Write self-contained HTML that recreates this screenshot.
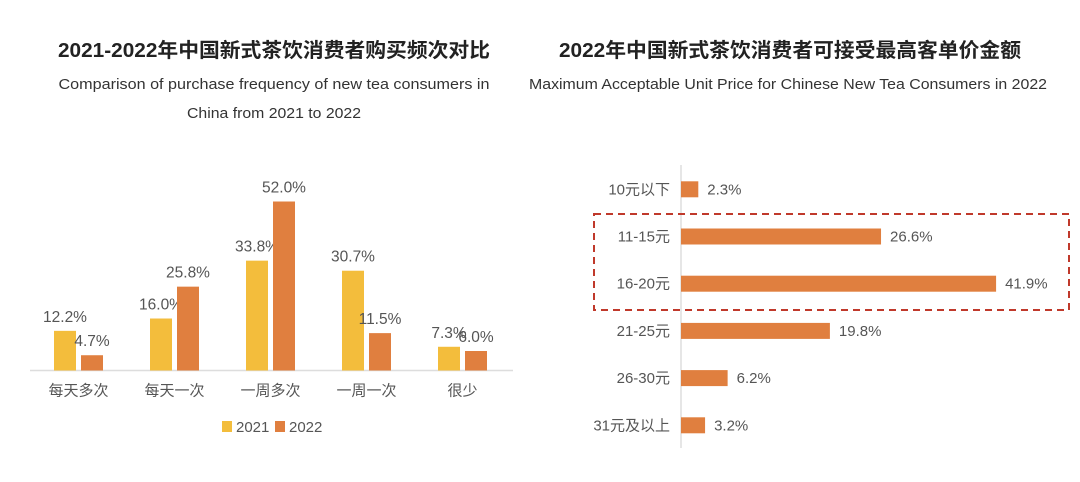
<!DOCTYPE html>
<html><head><meta charset="utf-8">
<style>
html,body{margin:0;padding:0;background:#fff;}
svg{display:block;font-family:"Liberation Sans","Noto Sans CJK SC",sans-serif;}
</style></head>
<body>
<svg id="c" width="1080" height="482" viewBox="0 0 1080 482">
  <text x="274" y="57" text-anchor="middle" font-size="20" font-weight="bold" fill="#222" textLength="432" lengthAdjust="spacingAndGlyphs">2021-2022年中国新式茶饮消费者购买频次对比</text>
  <text x="274" y="89" text-anchor="middle" font-size="15" fill="#333" textLength="431" lengthAdjust="spacingAndGlyphs">Comparison of purchase frequency of new tea consumers in</text>
  <text x="274" y="118" text-anchor="middle" font-size="15" fill="#333" textLength="174" lengthAdjust="spacingAndGlyphs">China from 2021 to 2022</text>
  <text x="790" y="57" text-anchor="middle" font-size="20" font-weight="bold" fill="#222" textLength="462" lengthAdjust="spacingAndGlyphs">2022年中国新式茶饮消费者可接受最高客单价金额</text>
  <text x="788" y="89" text-anchor="middle" font-size="15" fill="#333" textLength="518" lengthAdjust="spacingAndGlyphs">Maximum Acceptable Unit Price for Chinese New Tea Consumers in 2022</text>
  <g id="left"></g>
  <g id="right"></g>
  <rect x="594" y="214" width="475" height="96" fill="none" stroke="#c0392b" stroke-width="2" stroke-dasharray="7,5"/>
</svg>
<script>
const freqCategories = ["每天多次","每天一次","一周多次","一周一次","很少"];
const values2021 = [12.2, 16.0, 33.8, 30.7, 7.3];
const values2022 = [4.7, 25.8, 52.0, 11.5, 6.0];
const seriesNames = ["2021","2022"];
const priceCategories = ["10元以下","11-15元","16-20元","21-25元","26-30元","31元及以上"];
const priceValues = [2.3, 26.6, 41.9, 19.8, 6.2, 3.2];

const NS="http://www.w3.org/2000/svg";
function mk(parent,tag,attrs,text){const e=document.createElementNS(NS,tag);for(const k in attrs)e.setAttribute(k,attrs[k]);if(text!==undefined)e.textContent=text;parent.appendChild(e);return e;}
const C1="#f3bd3c", C2="#e07f3f";

// Left chart
const L=document.getElementById('left');
const base=370.5, yScale=v=>base - v*3.25;
const xCenter=i=>78.5+i*96;
const ax=mk(L,'line',{x1:30,x2:513,y1:base,y2:base,stroke:'#ddd','stroke-width':1.5});


freqCategories.forEach((cat,i)=>{
  const cx=xCenter(i);
  [values2021[i],values2022[i]].forEach((v,s)=>{
    const x = s===0 ? cx-24.5 : cx+2.5;
    const r=mk(L,'rect',{x:x,y:yScale(v),width:22,height:base-yScale(v),fill:s===0?C1:C2});
    
    
    const t=mk(L,'text',{x:x+11,y:yScale(v)-9,'text-anchor':'middle','font-size':15.5,fill:'#555'},v.toFixed(1)+'%');
    
    
  });
  const t=mk(L,'text',{x:cx,y:base+25,'text-anchor':'middle','font-size':15,fill:'#555'},cat);
  
  
});
seriesNames.forEach((n,s)=>{
  const lx=222+s*53;
  const r=mk(L,'rect',{x:lx,y:421,width:10,height:11,fill:s===0?C1:C2});
  
  
  const t=mk(L,'text',{x:lx+14,y:432,'font-size':15,fill:'#555'},n);
  
  
});

// Right chart
const R=document.getElementById('right');
const x0=681, xScale=v=>x0+v*7.52;
const yRow=i=>189.3+i*47.2;
const ay=mk(R,'line',{x1:x0,x2:x0,y1:165,y2:448,stroke:'#ddd','stroke-width':1.5});


priceCategories.forEach((cat,i)=>{
  const y=yRow(i), v=priceValues[i];
  const r=mk(R,'rect',{x:x0,y:y-8,width:xScale(v)-x0,height:16,fill:C2});
  
  
  const t=mk(R,'text',{x:xScale(v)+9,y:y+5,'font-size':15,fill:'#555'},v.toFixed(1)+'%');
  
  
  const c=mk(R,'text',{x:670,y:y+5,'text-anchor':'end','font-size':15,fill:'#555'},cat);
  
  
});
</script>
</body></html>
